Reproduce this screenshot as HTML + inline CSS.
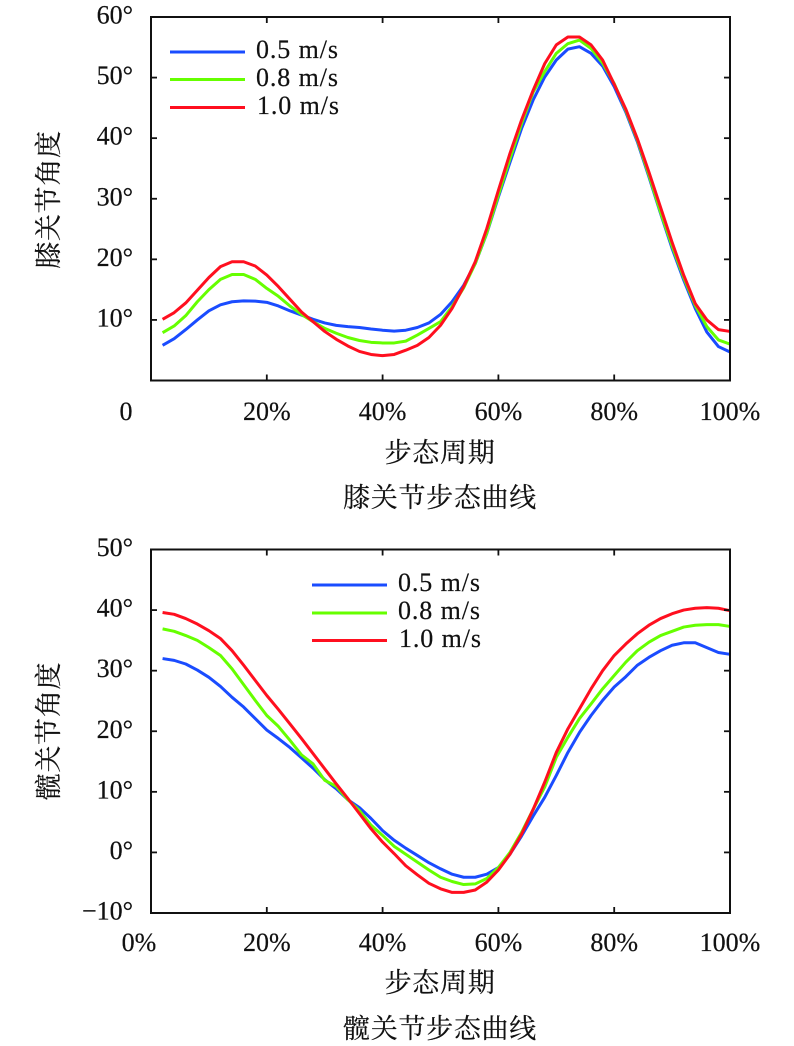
<!DOCTYPE html>
<html lang="zh">
<head>
<meta charset="utf-8">
<title>膝关节与髋关节步态曲线</title>
<style>
html,body{margin:0;padding:0;background:#fff;}
body{width:794px;height:1046px;overflow:hidden;}
svg{display:block;}
text{fill:#111;stroke:#111;stroke-width:0.2px;font-family:"Liberation Serif","Noto Serif CJK SC",serif;}
.num{font-size:26px;}
.leg{font-size:26px;letter-spacing:0.9px;}
.cjk{font-size:27px;letter-spacing:0.7px;font-family:"Liberation Serif","Noto Serif CJK SC",serif;}
</style>
</head>
<body>
<svg id="figure" xmlns="http://www.w3.org/2000/svg" width="794" height="1046" viewBox="0 0 794 1046">
  <g id="knee">
    <text class="cjk" transform="translate(58,199.5) rotate(-90)" text-anchor="middle">膝关节角度</text>
    <text class="cjk" x="440" y="462" text-anchor="middle">步态周期</text>
    <text class="cjk" x="440" y="507" text-anchor="middle">膝关节步态曲线</text>
    <g>
      <line x1="170" x2="245" y1="52" y2="52" stroke="#1a4cff" stroke-width="3"/>
      <text class="leg" x="256" y="58">0.5 m/s</text>
      <line x1="170" x2="245" y1="79.5" y2="79.5" stroke="#66ff00" stroke-width="3"/>
      <text class="leg" x="256" y="86">0.8 m/s</text>
      <line x1="170" x2="245" y1="107.5" y2="107.5" stroke="#ff0f1f" stroke-width="3"/>
      <text class="leg" x="257" y="114">1.0 m/s</text>
    </g>
  </g>
  <g id="hip">
    <text class="cjk" transform="translate(58,731) rotate(-90)" text-anchor="middle">髋关节角度</text>
    <text class="cjk" x="440" y="992" text-anchor="middle">步态周期</text>
    <text class="cjk" x="440" y="1038" text-anchor="middle">髋关节步态曲线</text>
    <g>
      <line x1="312" x2="387" y1="585" y2="585" stroke="#1a4cff" stroke-width="3"/>
      <text class="leg" x="398" y="591">0.5 m/s</text>
      <line x1="312" x2="387" y1="613" y2="613" stroke="#66ff00" stroke-width="3"/>
      <text class="leg" x="398" y="619">0.8 m/s</text>
      <line x1="312" x2="387" y1="640.5" y2="640.5" stroke="#ff0f1f" stroke-width="3"/>
      <text class="leg" x="399" y="647">1.0 m/s</text>
    </g>
  </g>
</svg>
<script>
const gaitCycle = [2,4,6,8,10,12,14,16,18,20,22,24,26,28,30,32,34,36,38,40,42,44,46,48,50,52,54,56,58,60,62,64,66,68,70,72,74,76,78,80,82,84,86,88,90,92,94,96,98,100];

const kneeSlow = [5.8,6.9,8.4,10,11.5,12.5,13,13.15,13.1,12.9,12.3,11.5,10.8,10.1,9.5,9.1,8.9,8.75,8.5,8.3,8.15,8.3,8.75,9.5,10.9,13,15.7,19.3,24.3,30.3,36,41.6,46.3,50.1,52.9,54.7,55.1,54,51.9,48.5,44.3,39.4,33.6,27.6,21.8,16.6,11.9,8,5.6,4.7];
const kneeMid = [7.9,9,10.7,13,15,16.7,17.5,17.5,16.7,15.2,13.9,12.3,10.9,9.7,8.6,7.8,7.1,6.6,6.3,6.2,6.2,6.5,7.5,8.6,9.7,12.2,15.3,19.3,24.4,30.6,36.6,42.4,47.6,51,54,55.6,56.2,54.8,52.4,49,44.6,39.7,33.9,27.8,22.2,17,12.4,8.9,6.7,6];
const kneeFast = [10.1,11.2,12.8,14.9,17,18.8,19.6,19.6,18.9,17.4,15.5,13.4,11.3,9.7,8.1,6.8,5.7,4.8,4.3,4.1,4.3,5,5.8,7.1,9.1,11.9,15.5,19.6,25.1,31.4,37.5,43,47.9,52.3,55.4,56.7,56.7,55.4,52.9,48.9,44.8,39.9,34.4,28.6,22.8,17.4,12.7,10,8.4,8.1];

const hipSlow = [32,31.7,31.1,30.1,28.9,27.4,25.6,24,22.1,20.2,18.8,17.3,15.6,13.9,12,10.5,8.7,7.4,5.6,3.6,2,0.7,-0.5,-1.7,-2.7,-3.6,-4.1,-4.1,-3.6,-2.5,-0.3,2.7,6,9.1,12.7,16.5,19.8,22.6,25.1,27.3,29,30.9,32.2,33.3,34.2,34.6,34.6,33.8,33,32.7];
const hipMid = [36.9,36.5,35.8,35,33.8,32.5,30.3,27.7,25.1,22.6,20.8,18.5,16.1,14.6,11.9,10.9,8.7,6.9,4.5,2.8,1,-0.3,-1.6,-2.9,-4.1,-4.8,-5.3,-5.2,-4.3,-2.5,0,3.3,7.1,10.8,15.7,19,22.1,24.5,27,29.2,31.4,33.3,34.7,35.8,36.5,37.2,37.5,37.6,37.6,37.3];
const hipFast = [39.6,39.3,38.6,37.7,36.6,35.3,33.3,30.9,28.4,25.9,23.6,21.2,18.8,16.3,13.8,11.3,8.9,6.4,3.9,1.7,-0.2,-2.2,-3.7,-5.1,-6,-6.6,-6.6,-6.2,-4.9,-2.9,-0.3,3,7.1,11.6,16.5,20.4,23.7,27,30,32.5,34.4,36.1,37.5,38.6,39.4,40,40.3,40.4,40.3,39.9];

const xTickValues = [0,20,40,60,80,100];
const kneeXTickLabels = ["0","20%","40%","60%","80%","100%"];
const hipXTickLabels = ["0%","20%","40%","60%","80%","100%"];
const kneeYTickValues = [10,20,30,40,50,60];
const kneeYTickLabels = ["10°","20°","30°","40°","50°","60°"];
const hipYTickValues = [-10,0,10,20,30,40,50];
const hipYTickLabels = ["−10°","0°","10°","20°","30°","40°","50°"];

const SVGNS = 'http://www.w3.org/2000/svg';
const X0 = 151, X1 = 730;
function xScale(p){ return X0 + (X1 - X0) * p / 100; }

function drawChart(opts){
  const host = document.getElementById(opts.id);
  const yScale = v => opts.bottom + (opts.top - opts.bottom) * (v - opts.yMin) / (opts.yMax - opts.yMin);

  opts.series.forEach(s => {
    const path = document.createElementNS(SVGNS, 'path');
    const d = gaitCycle.map((p, i) => (i ? 'L' : 'M') + xScale(p).toFixed(2) + ' ' + yScale(s.values[i]).toFixed(2)).join('');
    path.setAttribute('d', d);
    path.setAttribute('fill', 'none');
    path.setAttribute('stroke', s.color);
    path.setAttribute('stroke-width', '3');
    path.setAttribute('stroke-linejoin', 'round');
    
    
    host.appendChild(path);
  });

  const frame = document.createElementNS(SVGNS, 'rect');
  frame.setAttribute('x', X0);
  frame.setAttribute('y', opts.top);
  frame.setAttribute('width', X1 - X0);
  frame.setAttribute('height', opts.bottom - opts.top);
  frame.setAttribute('fill', 'none');
  frame.setAttribute('stroke', '#111');
  frame.setAttribute('stroke-width', '2');
  
  
  host.appendChild(frame);

  function tick(x1, y1, x2, y2, name){
    const l = document.createElementNS(SVGNS, 'line');
    l.setAttribute('x1', x1);
    l.setAttribute('y1', y1);
    l.setAttribute('x2', x2);
    l.setAttribute('y2', y2);
    l.setAttribute('stroke', '#111');
    l.setAttribute('stroke-width', '1.8');
    
    
    host.appendChild(l);
  }

  xTickValues.forEach((p, i) => {
    const x = xScale(p);
    if (p > 0 && p < 100) {
      tick(x, opts.bottom, x, opts.bottom - 6, opts.id + '-x-tick-bottom');
      tick(x, opts.top, x, opts.top + 6, opts.id + '-x-tick-top');
    }
    const t = document.createElementNS(SVGNS, 'text');
    t.setAttribute('class', 'num');
    t.setAttribute('x', p === 0 ? opts.zeroX : x);
    t.setAttribute('y', opts.xLabelY);
    t.setAttribute('text-anchor', 'middle');
    
    
    t.textContent = opts.xLabels[i];
    host.appendChild(t);
  });

  opts.yTicks.forEach((v, i) => {
    const y = yScale(v);
    if (v > opts.yMin && v < opts.yMax) {
      tick(X0, y, X0 + 6, y, opts.id + '-y-tick-left');
      tick(X1, y, X1 - 6, y, opts.id + '-y-tick-right');
    }
    const t = document.createElementNS(SVGNS, 'text');
    t.setAttribute('class', 'num');
    t.setAttribute('x', 133);
    t.setAttribute('y', y + 6.5);
    t.setAttribute('text-anchor', 'end');
    
    
    t.textContent = opts.yLabels[i];
    host.appendChild(t);
  });
}

drawChart({
  id: 'knee', top: 17, bottom: 380.5, yMin: 0, yMax: 60,
  yTicks: kneeYTickValues, yLabels: kneeYTickLabels, xLabels: kneeXTickLabels,
  xLabelY: 420, zeroX: 126,
  series: [
    {key: '0-5-ms', values: kneeSlow, color: '#1a4cff'},
    {key: '0-8-ms', values: kneeMid, color: '#66ff00'},
    {key: '1-0-ms', values: kneeFast, color: '#ff0f1f'}
  ]
});
drawChart({
  id: 'hip', top: 549.5, bottom: 913, yMin: -10, yMax: 50,
  yTicks: hipYTickValues, yLabels: hipYTickLabels, xLabels: hipXTickLabels,
  xLabelY: 951, zeroX: 139,
  series: [
    {key: '0-5-ms', values: hipSlow, color: '#1a4cff'},
    {key: '0-8-ms', values: hipMid, color: '#66ff00'},
    {key: '1-0-ms', values: hipFast, color: '#ff0f1f'}
  ]
});
</script>
</body>
</html>
